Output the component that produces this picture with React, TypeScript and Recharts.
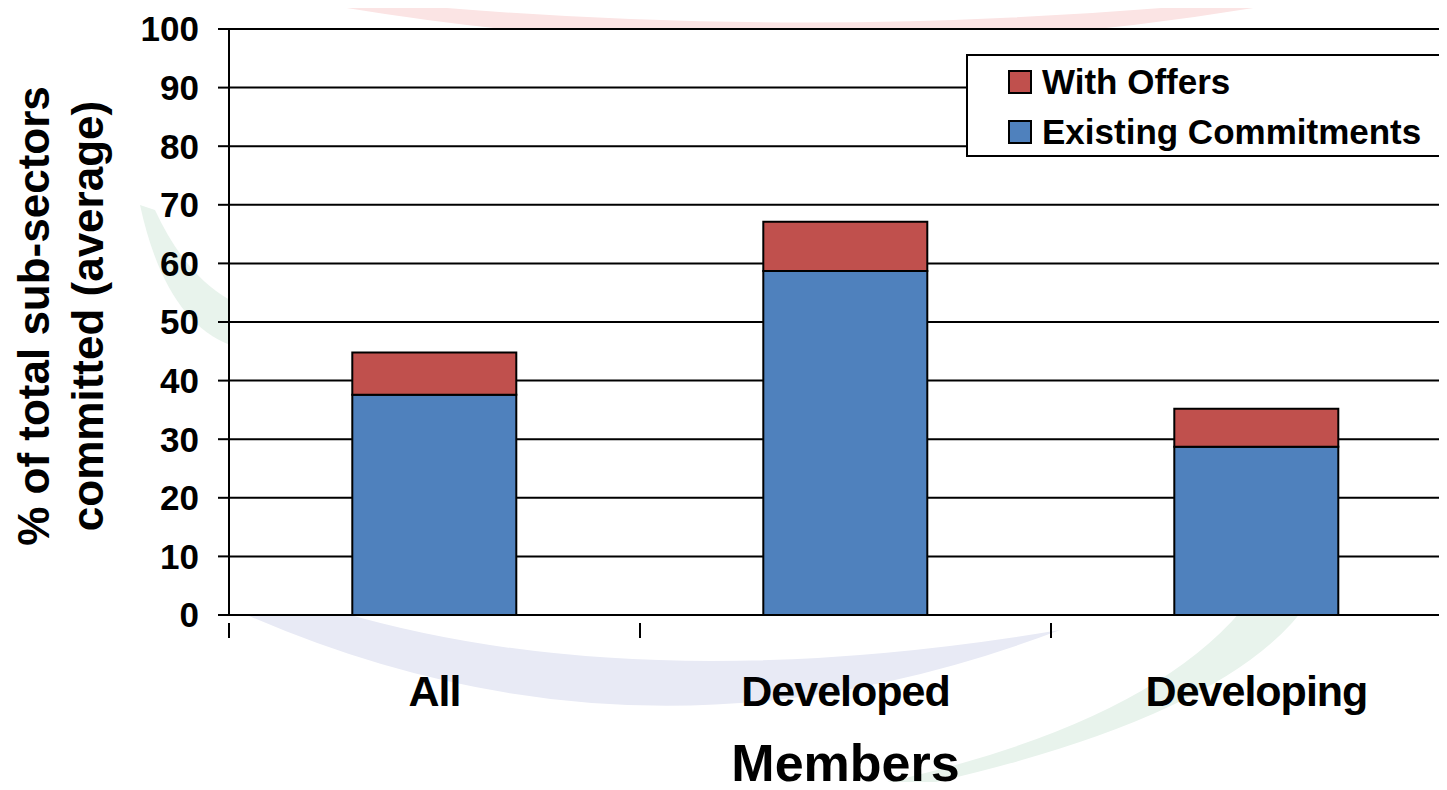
import React from 'react';
import { BarChart, Bar, XAxis, YAxis, CartesianGrid, Label } from 'recharts';

const categories = ['All', 'Developed', 'Developing'];
const existingCommitments = [37.6, 58.7, 28.7];
const withOffers = [7.2, 8.4, 6.5];
const yTicks = [0, 10, 20, 30, 40, 50, 60, 70, 80, 90, 100];

const BLUE = '#4F81BD';
const RED = '#C0504D';
const FONT = '"Liberation Sans", Arial, Helvetica, sans-serif';

const data = categories.map((c, i) => ({
  name: c,
  existing: existingCommitments[i],
  offers: withOffers[i],
}));

const legendItems = [
  { label: 'With Offers', color: RED, top: 8 },
  { label: 'Existing Commitments', color: BLUE, top: 58 },
];

const XTick = (props: any) => {
  const { x, y, payload } = props;
  const half = payload && payload.offset ? payload.offset : 205.5;
  return (
    <g>
      <line x1={x - half} y1={y - 0} x2={x - half} y2={y + 15} stroke="#000" strokeWidth={2} />
      <text
        x={x}
        y={y + 83}
        textAnchor="middle"
        fontFamily={FONT}
        fontWeight="bold"
        fontSize={43}
        letterSpacing={-1}
        fill="#000"
      >
        {payload.value}
      </text>
    </g>
  );
};

const LegendBox = () => (
  <div
    style={{
      position: 'absolute',
      left: 966,
      top: 54,
      border: '2px solid #000',
      background: '#fff',
      width: 520,
      height: 99,
      boxSizing: 'content-box',
      fontFamily: FONT,
      fontWeight: 'bold',
      fontSize: 35,
      color: '#000',
    }}
  >
    {legendItems.map((it) => (
      <div key={it.label} style={{ position: 'absolute', left: 40, top: it.top, display: 'flex', alignItems: 'center', height: 36 }}>
        <div style={{ width: 20, height: 20, background: it.color, border: '2px solid #000', marginRight: 10 }} />
        <span style={{ lineHeight: '36px', whiteSpace: 'nowrap' }}>{it.label}</span>
      </div>
    ))}
  </div>
);

const YLabel = () => {
  const cy = 316;
  return (
    <g fontFamily={FONT} fontWeight="bold" fontSize={44} fill="#000">
      <text x={0} y={0} textAnchor="middle" transform={`translate(49, ${cy}) rotate(-90)`}>
        % of total sub-sectors
      </text>
      <text x={0} y={0} textAnchor="middle" transform={`translate(103, ${cy}) rotate(-90)`}>
        committed (average)
      </text>
    </g>
  );
};

const XLabel = (props: any) => {
  const vb = props.viewBox || {};
  return (
    <text
      x={vb.x + vb.width / 2}
      y={781}
      textAnchor="middle"
      fontFamily={FONT}
      fontWeight="bold"
      fontSize={52}
      fill="#000"
    >
      Members
    </text>
  );
};

export default function App() {
  return (
    <div style={{ margin: -8, width: 1447, height: 790, overflow: 'hidden', position: 'relative', background: '#fff' }}>
      <svg width={1447} height={790} style={{ position: 'absolute', left: 0, top: 0 }}>
        <path d="M 300 0 Q 800 90 1300 0 L 1250 0 Q 800 45 360 0 Z" fill="#fbe4e4" />
        <path d="M 240 612 Q 640 790 1060 630 Q 640 700 340 612 Z" fill="#e8eaf5" />
        <path d="M 900 790 Q 1230 720 1310 600 L 1250 600 Q 1150 730 850 790 Z" fill="#e8f3ec" />
        <path d="M 140 205 Q 165 320 230 345 L 230 300 Q 185 275 155 210 Z" fill="#e8f3ec" />
      </svg>
      <div style={{ position: 'absolute', left: 0, top: 0 }}>
        <BarChart
          width={1480}
          height={790}
          data={data}
          margin={{ top: 29, right: 18, left: 0, bottom: 0 }}
          barCategoryGap="30%"
        >
          <CartesianGrid vertical={false} stroke="#000" strokeWidth={2} fill="#fff" fillOpacity={1} />
          <XAxis
            dataKey="name"
            height={175}
            axisLine={{ stroke: '#000', strokeWidth: 2 }}
            tickLine={false}
            tick={<XTick />}
            interval={0}
          >
            <Label content={<XLabel />} />
          </XAxis>
          <YAxis
            width={229}
            domain={[0, 100]}
            ticks={yTicks}
            interval={0}
            tickSize={11}
            tickMargin={19}
            axisLine={{ stroke: '#000', strokeWidth: 2 }}
            tickLine={{ stroke: '#000', strokeWidth: 2 }}
            tick={{ fontFamily: FONT, fontWeight: 'bold', fontSize: 35, fill: '#000' }}
          >
            <Label content={<YLabel />} />
          </YAxis>
          <Bar dataKey="existing" stackId="a" fill={BLUE} stroke="#000" strokeWidth={2} isAnimationActive={false} />
          <Bar dataKey="offers" stackId="a" fill={RED} stroke="#000" strokeWidth={2} isAnimationActive={false} />
        </BarChart>
      </div>
      <LegendBox />
    </div>
  );
}
